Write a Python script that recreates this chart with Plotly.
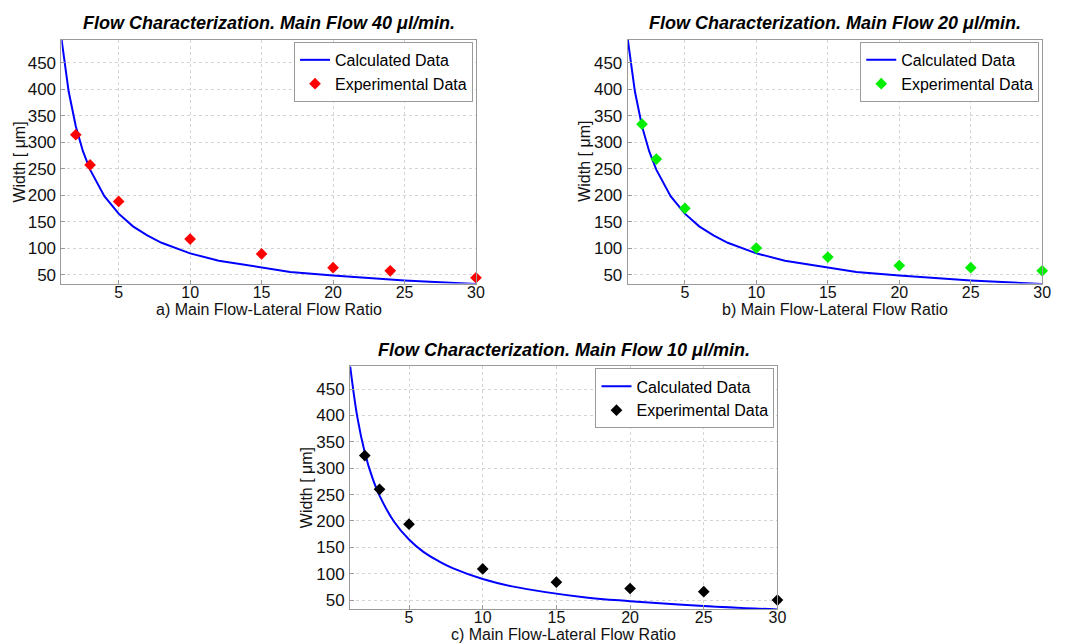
import plotly.graph_objects as go

W, H = 1078, 643

# Calculated curve
calc_x = [1, 1.5, 2, 2.5, 3, 4, 5, 6, 7, 8, 10, 12, 17, 20, 25, 30]
calc_y = [495, 396, 330, 283, 248, 198, 165, 141, 124, 110, 90, 76, 55, 48, 39, 32]

# Experimental data
exp40_x = [2, 3, 5, 10, 15, 20, 24, 30]
exp40_y = [314, 257, 188, 117, 89, 63, 57, 44]
exp20_x = [2, 3, 5, 10, 15, 20, 25, 30]
exp20_y = [334, 268, 175, 100, 83, 67, 63, 57]
exp10_x = [2, 3, 5, 10, 15, 20, 25, 30]
exp10_y = [324, 260, 194, 109, 84, 72, 66, 50]

titles = ["Flow Characterization. Main Flow 40 \u03bcl/min.",
          "Flow Characterization. Main Flow 20 \u03bcl/min.",
          "Flow Characterization. Main Flow 10 \u03bcl/min."]
xlabels = ["a) Main Flow-Lateral Flow Ratio",
           "b) Main Flow-Lateral Flow Ratio",
           "c) Main Flow-Lateral Flow Ratio"]
ylabel = "Width [ \u03bcm]"
x_ticks = [5, 10, 15, 20, 25, 30]
y_ticks = [50, 100, 150, 200, 250, 300, 350, 400, 450]

FONT = "Liberation Sans, Arial, Helvetica, sans-serif"

def px_x(x):
    return x / W

def px_y(y):
    return 1 - y / H

# panel boxes in pixels: left, right, top, bottom
boxes = [(62, 480, 40, 284), (633, 1051, 40, 284), (353, 784, 367, 610)]
exps = [(exp40_x, exp40_y, "#ff0000"), (exp20_x, exp20_y, "#00ee00"), (exp10_x, exp10_y, "#000000")]

fig = go.Figure()
layout = dict(
    width=W, height=H, margin=dict(l=0, r=0, t=0, b=0),
    paper_bgcolor="white", plot_bgcolor="white",
    font=dict(family=FONT, size=16, color="black"),
    annotations=[],
)

ytitle_x = [20, 590, 309]
xtitle_y = [310, 310, 635]
title_y = [23, 23, 351]

for i, (l, r, t, b) in enumerate(boxes):
    n = "" if i == 0 else str(i + 1)
    leg = "legend" if i == 0 else "legend" + str(i + 1)
    ex, ey, col = exps[i]
    fig.add_trace(go.Scatter(x=calc_x, y=calc_y, mode="lines", name="Calculated Data",
                             line=dict(color="#0000ff", width=2), xaxis="x" + n, yaxis="y" + n,
                             legend=leg, line_shape="spline" if i == 2 else "linear"))
    fig.add_trace(go.Scatter(x=ex, y=ey, mode="markers", name="Experimental Data",
                             marker=dict(symbol="diamond", size=9, color=col),
                             xaxis="x" + n, yaxis="y" + n, legend=leg, cliponaxis=False))
    axcommon = dict(showline=True, linecolor="#9a9a9a", linewidth=1, mirror=True,
                    ticks="inside", ticklen=4, tickcolor="#9a9a9a",
                    showgrid=True, gridcolor="#d4d4d4", griddash="dot", gridwidth=1,
                    zeroline=False, tickfont=dict(family=FONT, size=16, color="#111111"))
    layout["xaxis" + n] = dict(domain=[px_x(l), px_x(r)], anchor="y" + n, range=[1, 30],
                               tickvals=x_ticks, ticklabelstandoff=-6, **axcommon)
    layout["yaxis" + n] = dict(domain=[px_y(b), px_y(t)], anchor="x" + n, range=[33, 493],
                               tickvals=y_ticks, ticklabelstandoff=1,
                               **{**axcommon, "tickfont": dict(family=FONT, size=17, color="#111111")})
    layout[leg] = dict(x=px_x(r - 3), y=px_y(t + 2), xanchor="right", yanchor="top",
                       bgcolor="white", bordercolor="#9a9a9a", borderwidth=1,
                       font=dict(family=FONT, size=16, color="black"),
                       tracegroupgap=0, itemwidth=30)
    cx = (l + r) / 2
    layout["annotations"].append(dict(text="<b><i>" + titles[i] + "</i></b>", x=px_x(cx), y=px_y(title_y[i]),
                                      xref="paper", yref="paper", showarrow=False,
                                      font=dict(family=FONT, size=18, color="black"),
                                      xanchor="center", yanchor="middle"))
    layout["annotations"].append(dict(text=xlabels[i], x=px_x(cx), y=px_y(xtitle_y[i]),
                                      xref="paper", yref="paper", showarrow=False,
                                      font=dict(family=FONT, size=16, color="#111111"),
                                      xanchor="center", yanchor="middle"))
    layout["annotations"].append(dict(text=ylabel, x=px_x(ytitle_x[i]), y=px_y((t + b) / 2),
                                      xref="paper", yref="paper", showarrow=False, textangle=-90,
                                      font=dict(family=FONT, size=16, color="#111111"),
                                      xanchor="center", yanchor="middle"))

fig.update_layout(**layout)
fig.write_html("out.html", config={"displayModeBar": False},
               post_script="document.body.style.margin='0';document.body.style.overflow='hidden';")
